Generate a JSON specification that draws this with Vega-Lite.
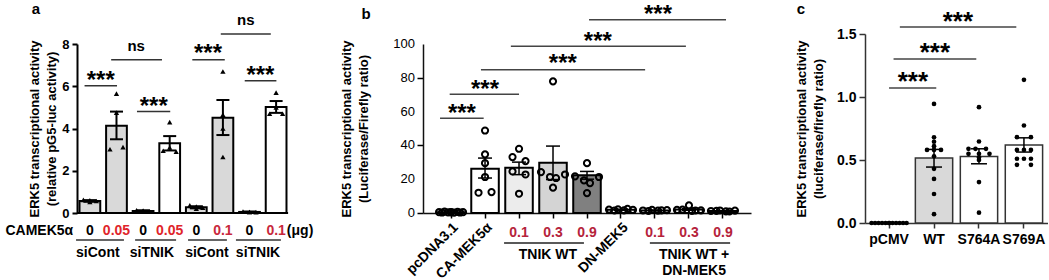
{
  "$schema": "https://vega.github.io/schema/vega-lite/v6.json",
  "padding": {"left": 5, "top": 1, "right": 0, "bottom": 0},
  "bounds": "flush",
  "center": true,
  "spacing": 114,
  "resolve": {"scale": {"fill": "independent", "color": "independent"}},
  "config": {
    "view": {"stroke": null},
    "font": "Liberation Sans",
    "axis": {"grid": false, "labelColor": "black", "titleColor": "black", "domainColor": "black", "tickColor": "black", "labelFont": "Liberation Sans", "titleFont": "Liberation Sans", "labelOverlap": false},
    "text": {"font": "Liberation Sans", "fontWeight": "bold"}
  },
  "datasets": {
    "a_bars": [
      {"cat": "siCont 0", "grp": "siCont", "dose": "0", "mean": 0.57, "lo": 0.53, "hi": 0.61},
      {"cat": "siCont 0.05", "grp": "siCont", "dose": "0.05", "mean": 4.13, "lo": 3.49, "hi": 4.8},
      {"cat": "siTNIK 0", "grp": "siTNIK", "dose": "0", "mean": 0.1, "lo": 0.07, "hi": 0.13},
      {"cat": "siTNIK 0.05", "grp": "siTNIK", "dose": "0.05", "mean": 3.3, "lo": 2.96, "hi": 3.64},
      {"cat": "siCont 0 (2)", "grp": "siCont", "dose": "0", "mean": 0.27, "lo": 0.22, "hi": 0.32},
      {"cat": "siCont 0.1", "grp": "siCont", "dose": "0.1", "mean": 4.51, "lo": 3.69, "hi": 5.35},
      {"cat": "siTNIK 0 (2)", "grp": "siTNIK", "dose": "0", "mean": 0.05, "lo": 0.03, "hi": 0.07},
      {"cat": "siTNIK 0.1", "grp": "siTNIK", "dose": "0.1", "mean": 5.02, "lo": 4.74, "hi": 5.3}
    ],
    "a_pts": [
      {"cat": "siCont 0", "lane": -1, "v": 0.62}, {"cat": "siCont 0", "lane": 0, "v": 0.6}, {"cat": "siCont 0", "lane": 1, "v": 0.57}, {"cat": "siCont 0", "lane": 0, "v": 0.52},
      {"cat": "siCont 0.05", "lane": 0, "v": 5.65}, {"cat": "siCont 0.05", "lane": 0, "v": 4.75}, {"cat": "siCont 0.05", "lane": -1, "v": 3.02}, {"cat": "siCont 0.05", "lane": 1, "v": 3.12},
      {"cat": "siTNIK 0", "lane": -1, "v": 0.13}, {"cat": "siTNIK 0", "lane": 0, "v": 0.1}, {"cat": "siTNIK 0", "lane": 1, "v": 0.08}, {"cat": "siTNIK 0", "lane": 0, "v": 0.1},
      {"cat": "siTNIK 0.05", "lane": 0, "v": 4.3}, {"cat": "siTNIK 0.05", "lane": 0, "v": 3.1}, {"cat": "siTNIK 0.05", "lane": -1, "v": 2.95}, {"cat": "siTNIK 0.05", "lane": 1, "v": 2.9},
      {"cat": "siCont 0 (2)", "lane": -1, "v": 0.36}, {"cat": "siCont 0 (2)", "lane": 0, "v": 0.3}, {"cat": "siCont 0 (2)", "lane": 1, "v": 0.25}, {"cat": "siCont 0 (2)", "lane": 0, "v": 0.2},
      {"cat": "siCont 0.1", "lane": 0, "v": 6.7}, {"cat": "siCont 0.1", "lane": 0, "v": 4.65}, {"cat": "siCont 0.1", "lane": 0, "v": 4.0}, {"cat": "siCont 0.1", "lane": 0, "v": 2.65},
      {"cat": "siTNIK 0 (2)", "lane": -1, "v": 0.07}, {"cat": "siTNIK 0 (2)", "lane": 0, "v": 0.05}, {"cat": "siTNIK 0 (2)", "lane": 1, "v": 0.04}, {"cat": "siTNIK 0 (2)", "lane": 0, "v": 0.05},
      {"cat": "siTNIK 0.1", "lane": 0, "v": 5.7}, {"cat": "siTNIK 0.1", "lane": 0, "v": 5.0}, {"cat": "siTNIK 0.1", "lane": -1, "v": 4.7}, {"cat": "siTNIK 0.1", "lane": 1, "v": 4.7}
    ],
    "a_brk": [
      {"x1": 0.80, "x2": 2.02, "y": 6.02, "label": "***", "xm": 1.41, "ty": 6.57},
      {"x1": 1.80, "x2": 3.71, "y": 7.25, "label": "ns", "xm": 2.74, "ty": 7.92},
      {"x1": 2.77, "x2": 4.02, "y": 4.80, "label": "***", "xm": 3.40, "ty": 5.34},
      {"x1": 4.85, "x2": 6.07, "y": 7.25, "label": "***", "xm": 5.44, "ty": 7.84},
      {"x1": 5.92, "x2": 7.80, "y": 8.47, "label": "ns", "xm": 6.86, "ty": 9.15},
      {"x1": 6.82, "x2": 8.01, "y": 6.26, "label": "***", "xm": 7.41, "ty": 6.81}
    ],
    "a_grp": [
      {"x1": 0.48, "x2": 2.28, "xm": 1.30, "label": "siCont"},
      {"x1": 2.70, "x2": 4.24, "xm": 3.33, "label": "siTNIK"},
      {"x1": 4.69, "x2": 6.15, "xm": 5.40, "label": "siCont"},
      {"x1": 6.49, "x2": 8.18, "xm": 7.32, "label": "siTNIK"}
    ],
    "a_lab": [
      {"xi": -0.90, "label": "CAMEK5α"},
      {"xi": 8.90, "label": "(μg)"}
    ],
    "b_bars": [
      {"cat": "pcDNA3.1", "dose": "", "mean": 0.47, "lo": 0.4, "hi": 0.55},
      {"cat": "CA-MEK5α", "dose": "", "mean": 26.2, "lo": 20.7, "hi": 32.5},
      {"cat": "TNIK WT 0.1", "dose": "0.1", "mean": 26.8, "lo": 22.7, "hi": 30.1},
      {"cat": "TNIK WT 0.3", "dose": "0.3", "mean": 29.7, "lo": 19.8, "hi": 39.6},
      {"cat": "TNIK WT 0.9", "dose": "0.9", "mean": 22.3, "lo": 20.0, "hi": 24.6},
      {"cat": "DN-MEK5", "dose": "", "mean": 1.9, "lo": 1.6, "hi": 2.2},
      {"cat": "TNIK WT + DN-MEK5 0.1", "dose": "0.1", "mean": 1.5, "lo": 1.3, "hi": 1.7},
      {"cat": "TNIK WT + DN-MEK5 0.3", "dose": "0.3", "mean": 2.1, "lo": 1.6, "hi": 2.6},
      {"cat": "TNIK WT + DN-MEK5 0.9", "dose": "0.9", "mean": 1.2, "lo": 1.1, "hi": 1.3}
    ],
    "b_ticks": [{"t": 0}, {"t": 20}, {"t": 40}, {"t": 60}, {"t": 80}, {"t": 100}],
    "b_pts": [
      {"cat": "pcDNA3.1", "lane": -4, "v": 0.5}, {"cat": "pcDNA3.1", "lane": -3, "v": 0.3}, {"cat": "pcDNA3.1", "lane": -2, "v": 0.8}, {"cat": "pcDNA3.1", "lane": -1, "v": 0.4}, {"cat": "pcDNA3.1", "lane": 0, "v": 0.6},
      {"cat": "pcDNA3.1", "lane": 1, "v": 0.2}, {"cat": "pcDNA3.1", "lane": 2, "v": 0.7}, {"cat": "pcDNA3.1", "lane": 3, "v": 0.3}, {"cat": "pcDNA3.1", "lane": 4, "v": 0.5}, {"cat": "pcDNA3.1", "lane": 0, "v": 0.4},
      {"cat": "CA-MEK5α", "lane": 0, "v": 48.8}, {"cat": "CA-MEK5α", "lane": 0, "v": 34.7}, {"cat": "CA-MEK5α", "lane": 0, "v": 29.5}, {"cat": "CA-MEK5α", "lane": 0, "v": 21.3}, {"cat": "CA-MEK5α", "lane": -2, "v": 12.0}, {"cat": "CA-MEK5α", "lane": 2, "v": 12.4},
      {"cat": "TNIK WT 0.1", "lane": 0, "v": 38.0}, {"cat": "TNIK WT 0.1", "lane": -2, "v": 33.1}, {"cat": "TNIK WT 0.1", "lane": 2, "v": 30.7}, {"cat": "TNIK WT 0.1", "lane": -2, "v": 24.6}, {"cat": "TNIK WT 0.1", "lane": 2, "v": 22.8}, {"cat": "TNIK WT 0.1", "lane": 0, "v": 11.4},
      {"cat": "TNIK WT 0.3", "lane": 0, "v": 77.9}, {"cat": "TNIK WT 0.3", "lane": -4, "v": 24.2}, {"cat": "TNIK WT 0.3", "lane": -1, "v": 21.3}, {"cat": "TNIK WT 0.3", "lane": 1, "v": 20.7}, {"cat": "TNIK WT 0.3", "lane": 4, "v": 22.8}, {"cat": "TNIK WT 0.3", "lane": 0, "v": 15.0},
      {"cat": "TNIK WT 0.9", "lane": 0, "v": 29.5}, {"cat": "TNIK WT 0.9", "lane": -4, "v": 21.7}, {"cat": "TNIK WT 0.9", "lane": 4, "v": 21.3}, {"cat": "TNIK WT 0.9", "lane": -1, "v": 19.3}, {"cat": "TNIK WT 0.9", "lane": 1, "v": 17.7}, {"cat": "TNIK WT 0.9", "lane": 0, "v": 11.8},
      {"cat": "DN-MEK5", "lane": -4, "v": 2.0}, {"cat": "DN-MEK5", "lane": -2, "v": 1.5}, {"cat": "DN-MEK5", "lane": -1, "v": 2.2}, {"cat": "DN-MEK5", "lane": 1, "v": 1.6}, {"cat": "DN-MEK5", "lane": 2, "v": 2.5}, {"cat": "DN-MEK5", "lane": 4, "v": 1.8},
      {"cat": "TNIK WT + DN-MEK5 0.1", "lane": -4, "v": 1.5}, {"cat": "TNIK WT + DN-MEK5 0.1", "lane": -2, "v": 1.2}, {"cat": "TNIK WT + DN-MEK5 0.1", "lane": -1, "v": 1.8}, {"cat": "TNIK WT + DN-MEK5 0.1", "lane": 1, "v": 1.4}, {"cat": "TNIK WT + DN-MEK5 0.1", "lane": 2, "v": 1.6}, {"cat": "TNIK WT + DN-MEK5 0.1", "lane": 4, "v": 1.7},
      {"cat": "TNIK WT + DN-MEK5 0.3", "lane": 0, "v": 4.5}, {"cat": "TNIK WT + DN-MEK5 0.3", "lane": -4, "v": 1.8}, {"cat": "TNIK WT + DN-MEK5 0.3", "lane": -2, "v": 2.0}, {"cat": "TNIK WT + DN-MEK5 0.3", "lane": 1, "v": 1.2}, {"cat": "TNIK WT + DN-MEK5 0.3", "lane": 2, "v": 1.5}, {"cat": "TNIK WT + DN-MEK5 0.3", "lane": 4, "v": 1.6},
      {"cat": "TNIK WT + DN-MEK5 0.9", "lane": -4, "v": 1.2}, {"cat": "TNIK WT + DN-MEK5 0.9", "lane": -2, "v": 1.3}, {"cat": "TNIK WT + DN-MEK5 0.9", "lane": -1, "v": 1.5}, {"cat": "TNIK WT + DN-MEK5 0.9", "lane": 1, "v": 1.0}, {"cat": "TNIK WT + DN-MEK5 0.9", "lane": 2, "v": 0.9}, {"cat": "TNIK WT + DN-MEK5 0.9", "lane": 4, "v": 1.4}
    ],
    "b_brk": [
      {"x1": 0.676, "x2": 1.96, "y": 56.1, "label": "***", "xm": 1.32, "ty": 63.0},
      {"x1": 0.96, "x2": 3.0, "y": 70.2, "label": "***", "xm": 2.0, "ty": 76.7},
      {"x1": 1.88, "x2": 6.71, "y": 84.8, "label": "***", "xm": 4.29, "ty": 92.1},
      {"x1": 2.76, "x2": 7.91, "y": 98.6, "label": "***", "xm": 5.32, "ty": 105.3},
      {"x1": 5.06, "x2": 9.09, "y": 114.3, "label": "***", "xm": 7.09, "ty": 121.2}
    ],
    "b_grp": [
      {"x1": 2.56, "x2": 4.91, "xm": 3.85, "label": "TNIK WT"},
      {"x1": 6.85, "x2": 9.21, "xm": 8.15, "label": "TNIK WT +\nDN-MEK5"}
    ],
    "c_bars": [
      {"cat": "pCMV", "mean": 0, "lo": 0, "hi": 0},
      {"cat": "WT", "mean": 0.516, "lo": 0.444, "hi": 0.584},
      {"cat": "S764A", "mean": 0.528, "lo": 0.47, "hi": 0.589},
      {"cat": "S769A", "mean": 0.62, "lo": 0.563, "hi": 0.676}
    ],
    "c_pts": [
      {"cat": "pCMV", "lane": -5, "v": 0}, {"cat": "pCMV", "lane": -4, "v": 0}, {"cat": "pCMV", "lane": -3, "v": 0}, {"cat": "pCMV", "lane": -2, "v": 0}, {"cat": "pCMV", "lane": -1, "v": 0}, {"cat": "pCMV", "lane": 0, "v": 0},
      {"cat": "pCMV", "lane": 1, "v": 0}, {"cat": "pCMV", "lane": 2, "v": 0}, {"cat": "pCMV", "lane": 3, "v": 0}, {"cat": "pCMV", "lane": 4, "v": 0}, {"cat": "pCMV", "lane": 5, "v": 0}, {"cat": "pCMV", "lane": 0, "v": 0},
      {"cat": "WT", "lane": 0, "v": 0.945}, {"cat": "WT", "lane": 0, "v": 0.68}, {"cat": "WT", "lane": 0, "v": 0.645}, {"cat": "WT", "lane": 0, "v": 0.61}, {"cat": "WT", "lane": -2, "v": 0.58}, {"cat": "WT", "lane": 0, "v": 0.58},
      {"cat": "WT", "lane": 2, "v": 0.58}, {"cat": "WT", "lane": 0, "v": 0.53}, {"cat": "WT", "lane": 0, "v": 0.43}, {"cat": "WT", "lane": 0, "v": 0.35}, {"cat": "WT", "lane": 0, "v": 0.23}, {"cat": "WT", "lane": 0, "v": 0.07},
      {"cat": "S764A", "lane": 0, "v": 0.919}, {"cat": "S764A", "lane": 0, "v": 0.647}, {"cat": "S764A", "lane": -3, "v": 0.589}, {"cat": "S764A", "lane": -1, "v": 0.589}, {"cat": "S764A", "lane": 2, "v": 0.589}, {"cat": "S764A", "lane": -3, "v": 0.549},
      {"cat": "S764A", "lane": 0, "v": 0.549}, {"cat": "S764A", "lane": 3, "v": 0.549}, {"cat": "S764A", "lane": 0, "v": 0.52}, {"cat": "S764A", "lane": 0, "v": 0.5}, {"cat": "S764A", "lane": 0, "v": 0.325}, {"cat": "S764A", "lane": 0, "v": 0.082},
      {"cat": "S769A", "lane": 0, "v": 1.136}, {"cat": "S769A", "lane": 0, "v": 0.774}, {"cat": "S769A", "lane": -2, "v": 0.681}, {"cat": "S769A", "lane": 2, "v": 0.681}, {"cat": "S769A", "lane": -2, "v": 0.58}, {"cat": "S769A", "lane": 0, "v": 0.58},
      {"cat": "S769A", "lane": 2, "v": 0.58}, {"cat": "S769A", "lane": -2, "v": 0.51}, {"cat": "S769A", "lane": 0, "v": 0.51}, {"cat": "S769A", "lane": 2, "v": 0.51}, {"cat": "S769A", "lane": -2, "v": 0.462}, {"cat": "S769A", "lane": 2, "v": 0.462}
    ],
    "c_brk": [
      {"x1": 1.0, "x2": 2.05, "y": 1.072, "label": "***", "xm": 1.53, "ty": 1.175},
      {"x1": 1.10, "x2": 2.94, "y": 1.302, "label": "***", "xm": 2.02, "ty": 1.408},
      {"x1": 1.24, "x2": 3.83, "y": 1.555, "label": "***", "xm": 2.53, "ty": 1.65}
    ]
  },
  "hconcat": [
    {
      "width": 232,
      "height": 169,
      "resolve": {"scale": {"x": "independent"}, "axis": {"x": "independent"}},
      "layer": [
        {
          "encoding": {
            "x": {"field": "cat", "type": "nominal", "sort": null, "axis": null,
                  "scale": {"domain": ["siCont 0", "siCont 0.05", "siTNIK 0", "siTNIK 0.05", "siCont 0 (2)", "siCont 0.1", "siTNIK 0 (2)", "siTNIK 0.1"], "paddingInner": 0.22, "paddingOuter": 0.47, "align": 0.1}}
          },
          "layer": [
            {
              "data": {"name": "a_bars"},
              "mark": {"type": "bar", "stroke": "black", "strokeWidth": 2},
              "encoding": {
                "y": {"field": "mean", "type": "quantitative", "scale": {"domain": [0, 8], "nice": false},
                      "axis": {"values": [0, 2, 4, 6, 8], "labelOverlap": false, "title": ["ERK5 transcriptional activity", "(relative pG5-luc activity)"], "titleFontSize": 13, "titleFontWeight": "bold", "titlePadding": 3, "titleLineHeight": 17, "labelFontSize": 13, "labelFontWeight": "bold", "labelPadding": 3, "tickSize": 5, "tickWidth": 2, "domainWidth": 2}},
                "fill": {"field": "grp", "type": "nominal", "scale": {"domain": ["siCont", "siTNIK"], "range": ["#d9d9d9", "#ffffff"]}, "legend": null}
              }
            },
            {
              "data": {"name": "a_bars"},
              "mark": {"type": "rule", "strokeWidth": 2, "color": "black"},
              "encoding": {"y": {"field": "lo", "type": "quantitative", "scale": {"domain": [0, 8], "nice": false}}, "y2": {"field": "hi"}}
            },
            {
              "data": {"name": "a_bars"},
              "mark": {"type": "rule", "strokeWidth": 2, "color": "black", "xOffset": -6.5, "x2Offset": 6.5},
              "encoding": {"x2": {"field": "cat"}, "y": {"field": "hi", "type": "quantitative", "scale": {"domain": [0, 8], "nice": false}}}
            },
            {
              "data": {"name": "a_bars"},
              "mark": {"type": "rule", "strokeWidth": 2, "color": "black", "xOffset": -6.5, "x2Offset": 6.5},
              "encoding": {"x2": {"field": "cat"}, "y": {"field": "lo", "type": "quantitative", "scale": {"domain": [0, 8], "nice": false}}}
            },
            {
              "data": {"name": "a_pts"}, "transform": [{"filter": "datum.lane == -1"}],
              "mark": {"type": "point", "shape": "triangle-up", "filled": true, "color": "black", "size": 28, "opacity": 1, "xOffset": -6.5},
              "encoding": {"y": {"field": "v", "type": "quantitative", "scale": {"domain": [0, 8], "nice": false}}}
            },
            {
              "data": {"name": "a_pts"}, "transform": [{"filter": "datum.lane == 0"}],
              "mark": {"type": "point", "shape": "triangle-up", "filled": true, "color": "black", "size": 28, "opacity": 1},
              "encoding": {"y": {"field": "v", "type": "quantitative", "scale": {"domain": [0, 8], "nice": false}}}
            },
            {
              "data": {"name": "a_pts"}, "transform": [{"filter": "datum.lane == 1"}],
              "mark": {"type": "point", "shape": "triangle-up", "filled": true, "color": "black", "size": 28, "opacity": 1, "xOffset": 6.5},
              "encoding": {"y": {"field": "v", "type": "quantitative", "scale": {"domain": [0, 8], "nice": false}}}
            },
            {
              "data": {"name": "a_bars"},
              "mark": {"type": "text", "dy": 18, "fontSize": 14, "fontWeight": "bold", "baseline": "middle"},
              "encoding": {
                "y": {"datum": 0, "type": "quantitative", "scale": {"domain": [0, 8], "nice": false}},
                "text": {"field": "dose", "type": "nominal"},
                "color": {"field": "dose", "type": "nominal", "scale": {"domain": ["0", "0.05", "0.1"], "range": ["#000000", "#e0252b", "#c8283c"]}, "legend": null}
              }
            }
          ]
        },
        {
          "layer": [
            {
              "data": {"values": [{}]},
              "mark": {"type": "rule", "strokeWidth": 2, "color": "black"},
              "encoding": {
                "x": {"datum": 0.5159, "type": "quantitative", "scale": {"domain": [0.5159, 9.2357], "nice": false, "zero": false}, "axis": null},
                "x2": {"datum": 8.45},
                "y": {"datum": 0, "type": "quantitative", "scale": {"domain": [0, 8], "nice": false}}
              }
            },
            {
              "data": {"name": "a_brk"},
              "mark": {"type": "rule", "strokeWidth": 1.5, "color": "#333333"},
              "encoding": {
                "x": {"field": "x1", "type": "quantitative", "scale": {"domain": [0.5159, 9.2357], "nice": false, "zero": false}, "axis": null},
                "x2": {"field": "x2"},
                "y": {"field": "y", "type": "quantitative", "scale": {"domain": [0, 8], "nice": false}}
              }
            },
            {
              "data": {"name": "a_brk"},
              "transform": [{"filter": "datum.label == '***'"}],
              "mark": {"type": "text", "fontSize": 24, "fontWeight": "bold", "baseline": "middle", "dy": 7},
              "encoding": {
                "x": {"field": "xm", "type": "quantitative", "scale": {"domain": [0.5159, 9.2357], "nice": false, "zero": false}, "axis": null},
                "y": {"field": "ty", "type": "quantitative", "scale": {"domain": [0, 8], "nice": false}},
                "text": {"field": "label"}
              }
            },
            {
              "data": {"name": "a_brk"},
              "transform": [{"filter": "datum.label == 'ns'"}],
              "mark": {"type": "text", "fontSize": 15, "fontWeight": "bold", "baseline": "middle"},
              "encoding": {
                "x": {"field": "xm", "type": "quantitative", "scale": {"domain": [0.5159, 9.2357], "nice": false, "zero": false}, "axis": null},
                "y": {"field": "ty", "type": "quantitative", "scale": {"domain": [0, 8], "nice": false}},
                "text": {"field": "label"}
              }
            },
            {
              "data": {"name": "a_grp"},
              "mark": {"type": "rule", "strokeWidth": 1.5, "color": "#333333", "yOffset": 27},
              "encoding": {
                "x": {"field": "x1", "type": "quantitative", "scale": {"domain": [0.5159, 9.2357], "nice": false, "zero": false}, "axis": null},
                "x2": {"field": "x2"},
                "y": {"datum": 0, "type": "quantitative", "scale": {"domain": [0, 8], "nice": false}}
              }
            },
            {
              "data": {"name": "a_grp"},
              "mark": {"type": "text", "fontSize": 14, "fontWeight": "bold", "baseline": "middle", "dy": 40},
              "encoding": {
                "x": {"field": "xm", "type": "quantitative", "scale": {"domain": [0.5159, 9.2357], "nice": false, "zero": false}, "axis": null},
                "y": {"datum": 0, "type": "quantitative", "scale": {"domain": [0, 8], "nice": false}},
                "text": {"field": "label"}
              }
            },
            {
              "data": {"name": "a_lab"},
              "mark": {"type": "text", "fontSize": 14, "fontWeight": "bold", "baseline": "middle", "dy": 18},
              "encoding": {
                "x": {"field": "xi", "type": "quantitative", "scale": {"domain": [0.5159, 9.2357], "nice": false, "zero": false}, "axis": null},
                "y": {"datum": 0, "type": "quantitative", "scale": {"domain": [0, 8], "nice": false}},
                "text": {"field": "label"}
              }
            },
            {
              "data": {"values": [{}]},
              "mark": {"type": "text", "text": "a", "fontSize": 15, "fontWeight": "bold", "baseline": "middle"},
              "encoding": {
                "x": {"datum": -1.03, "type": "quantitative", "scale": {"domain": [0.5159, 9.2357], "nice": false, "zero": false}, "axis": null},
                "y": {"datum": 9.68, "type": "quantitative", "scale": {"domain": [0, 8], "nice": false}}
              }
            }
          ]
        }
      ]
    },
    {
      "width": 328,
      "height": 169,
      "resolve": {"scale": {"x": "independent"}, "axis": {"x": "independent"}},
      "layer": [
        {
          "encoding": {
            "x": {"field": "cat", "type": "nominal", "sort": null,
                  "scale": {"domain": ["pcDNA3.1", "CA-MEK5α", "TNIK WT 0.1", "TNIK WT 0.3", "TNIK WT 0.9", "DN-MEK5", "TNIK WT + DN-MEK5 0.1", "TNIK WT + DN-MEK5 0.3", "TNIK WT + DN-MEK5 0.9"], "paddingInner": 0.19, "paddingOuter": 0.42},
                  "axis": {"title": null, "labelAngle": -45, "labelExpr": "indexof(datum.value, ' ') < 0 ? datum.value : ''", "labelFontSize": 14, "labelFontWeight": "bold", "labelPadding": 2, "tickSize": 5, "tickWidth": 1.5, "domainWidth": 1.5, "domainColor": "#111111"}}
          },
          "layer": [
            {
              "data": {"name": "b_bars"},
              "mark": {"type": "bar", "stroke": "black", "strokeWidth": 2},
              "encoding": {
                "y": {"field": "mean", "type": "quantitative", "scale": {"domain": [0, 100], "nice": false},
                      "axis": {"values": [0, 20, 40, 60, 80, 100], "labels": false, "title": ["ERK5 transcriptional activity", "(Luciferase/Firefly ratio)"], "titleFontSize": 13, "titleFontWeight": "bold", "titlePadding": 46, "titleLineHeight": 17, "tickSize": 6, "tickWidth": 1.5, "domainWidth": 1.5, "domainColor": "#111111"}},
                "fill": {"field": "cat", "type": "nominal", "scale": {"domain": ["pcDNA3.1", "CA-MEK5α", "TNIK WT 0.1", "TNIK WT 0.3", "TNIK WT 0.9", "DN-MEK5", "TNIK WT + DN-MEK5 0.1", "TNIK WT + DN-MEK5 0.3", "TNIK WT + DN-MEK5 0.9"], "range": ["#ffffff", "#ffffff", "#ececec", "#d4d4d4", "#808080", "#ffffff", "#ffffff", "#ffffff", "#ffffff"]}, "legend": null}
              }
            },
            {
              "data": {"name": "b_bars"},
              "mark": {"type": "rule", "strokeWidth": 1.5, "color": "black"},
              "encoding": {"y": {"field": "lo", "type": "quantitative", "scale": {"domain": [0, 100], "nice": false}}, "y2": {"field": "hi"}}
            },
            {
              "data": {"name": "b_bars"},
              "mark": {"type": "rule", "strokeWidth": 1.5, "color": "black", "xOffset": -7, "x2Offset": 7},
              "encoding": {"x2": {"field": "cat"}, "y": {"field": "hi", "type": "quantitative", "scale": {"domain": [0, 100], "nice": false}}}
            },
            {
              "data": {"name": "b_bars"},
              "mark": {"type": "rule", "strokeWidth": 1.5, "color": "black", "xOffset": -7, "x2Offset": 7},
              "encoding": {"x2": {"field": "cat"}, "y": {"field": "lo", "type": "quantitative", "scale": {"domain": [0, 100], "nice": false}}}
            },
            {"data": {"name": "b_pts"}, "transform": [{"filter": "datum.lane == -4"}], "mark": {"type": "point", "shape": "circle", "filled": false, "color": "black", "strokeWidth": 2, "size": 38, "opacity": 1, "xOffset": -12}, "encoding": {"y": {"field": "v", "type": "quantitative", "scale": {"domain": [0, 100], "nice": false}}}},
            {"data": {"name": "b_pts"}, "transform": [{"filter": "datum.lane == -3"}], "mark": {"type": "point", "shape": "circle", "filled": false, "color": "black", "strokeWidth": 2, "size": 38, "opacity": 1, "xOffset": -9}, "encoding": {"y": {"field": "v", "type": "quantitative", "scale": {"domain": [0, 100], "nice": false}}}},
            {"data": {"name": "b_pts"}, "transform": [{"filter": "datum.lane == -2"}], "mark": {"type": "point", "shape": "circle", "filled": false, "color": "black", "strokeWidth": 2, "size": 38, "opacity": 1, "xOffset": -6.5}, "encoding": {"y": {"field": "v", "type": "quantitative", "scale": {"domain": [0, 100], "nice": false}}}},
            {"data": {"name": "b_pts"}, "transform": [{"filter": "datum.lane == -1"}], "mark": {"type": "point", "shape": "circle", "filled": false, "color": "black", "strokeWidth": 2, "size": 38, "opacity": 1, "xOffset": -3}, "encoding": {"y": {"field": "v", "type": "quantitative", "scale": {"domain": [0, 100], "nice": false}}}},
            {"data": {"name": "b_pts"}, "transform": [{"filter": "datum.lane == 0"}], "mark": {"type": "point", "shape": "circle", "filled": false, "color": "black", "strokeWidth": 2, "size": 38, "opacity": 1}, "encoding": {"y": {"field": "v", "type": "quantitative", "scale": {"domain": [0, 100], "nice": false}}}},
            {"data": {"name": "b_pts"}, "transform": [{"filter": "datum.lane == 1"}], "mark": {"type": "point", "shape": "circle", "filled": false, "color": "black", "strokeWidth": 2, "size": 38, "opacity": 1, "xOffset": 3}, "encoding": {"y": {"field": "v", "type": "quantitative", "scale": {"domain": [0, 100], "nice": false}}}},
            {"data": {"name": "b_pts"}, "transform": [{"filter": "datum.lane == 2"}], "mark": {"type": "point", "shape": "circle", "filled": false, "color": "black", "strokeWidth": 2, "size": 38, "opacity": 1, "xOffset": 6.5}, "encoding": {"y": {"field": "v", "type": "quantitative", "scale": {"domain": [0, 100], "nice": false}}}},
            {"data": {"name": "b_pts"}, "transform": [{"filter": "datum.lane == 3"}], "mark": {"type": "point", "shape": "circle", "filled": false, "color": "black", "strokeWidth": 2, "size": 38, "opacity": 1, "xOffset": 9}, "encoding": {"y": {"field": "v", "type": "quantitative", "scale": {"domain": [0, 100], "nice": false}}}},
            {"data": {"name": "b_pts"}, "transform": [{"filter": "datum.lane == 4"}], "mark": {"type": "point", "shape": "circle", "filled": false, "color": "black", "strokeWidth": 2, "size": 38, "opacity": 1, "xOffset": 12}, "encoding": {"y": {"field": "v", "type": "quantitative", "scale": {"domain": [0, 100], "nice": false}}}},
            {
              "data": {"name": "b_bars"},
              "mark": {"type": "text", "dy": 20, "fontSize": 14, "fontWeight": "bold", "baseline": "middle", "color": "#b5233b"},
              "encoding": {
                "y": {"datum": 0, "type": "quantitative", "scale": {"domain": [0, 100], "nice": false}},
                "text": {"field": "dose", "type": "nominal"}
              }
            }
          ]
        },
        {
          "layer": [
            {
              "data": {"name": "b_ticks"},
              "mark": {"type": "text", "fontSize": 13, "fontWeight": "normal", "align": "right", "baseline": "middle", "dx": -8, "color": "black"},
              "encoding": {
                "x": {"datum": 0.175, "type": "quantitative", "scale": {"domain": [0.175, 9.825], "nice": false, "zero": false}, "axis": null},
                "y": {"field": "t", "type": "quantitative", "scale": {"domain": [0, 100], "nice": false}},
                "text": {"field": "t", "type": "quantitative"}
              }
            },
            {
              "data": {"name": "b_brk"},
              "mark": {"type": "rule", "strokeWidth": 1.5, "color": "#444444"},
              "encoding": {
                "x": {"field": "x1", "type": "quantitative", "scale": {"domain": [0.175, 9.825], "nice": false, "zero": false}, "axis": null},
                "x2": {"field": "x2"},
                "y": {"field": "y", "type": "quantitative", "scale": {"domain": [0, 100], "nice": false}}
              }
            },
            {
              "data": {"name": "b_brk"},
              "mark": {"type": "text", "fontSize": 24, "fontWeight": "bold", "baseline": "middle", "dy": 7},
              "encoding": {
                "x": {"field": "xm", "type": "quantitative", "scale": {"domain": [0.175, 9.825], "nice": false, "zero": false}, "axis": null},
                "y": {"field": "ty", "type": "quantitative", "scale": {"domain": [0, 100], "nice": false}},
                "text": {"field": "label"}
              }
            },
            {
              "data": {"name": "b_grp"},
              "mark": {"type": "rule", "strokeWidth": 1.5, "color": "#222222", "yOffset": 30},
              "encoding": {
                "x": {"field": "x1", "type": "quantitative", "scale": {"domain": [0.175, 9.825], "nice": false, "zero": false}, "axis": null},
                "x2": {"field": "x2"},
                "y": {"datum": 0, "type": "quantitative", "scale": {"domain": [0, 100], "nice": false}}
              }
            },
            {
              "data": {"name": "b_grp"},
              "mark": {"type": "text", "fontSize": 14, "fontWeight": "bold", "baseline": "middle", "dy": 42, "lineBreak": "\n", "lineHeight": 16},
              "encoding": {
                "x": {"field": "xm", "type": "quantitative", "scale": {"domain": [0.175, 9.825], "nice": false, "zero": false}, "axis": null},
                "y": {"datum": 0, "type": "quantitative", "scale": {"domain": [0, 100], "nice": false}},
                "text": {"field": "label"}
              }
            },
            {
              "data": {"values": [{}]},
              "mark": {"type": "text", "text": "b", "fontSize": 15, "fontWeight": "bold", "baseline": "middle"},
              "encoding": {
                "x": {"datum": -1.5, "type": "quantitative", "scale": {"domain": [0.175, 9.825], "nice": false, "zero": false}, "axis": null},
                "y": {"datum": 118, "type": "quantitative", "scale": {"domain": [0, 100], "nice": false}}
              }
            }
          ]
        }
      ]
    },
    {
      "width": 183,
      "height": 189,
      "resolve": {"scale": {"x": "independent"}, "axis": {"x": "independent"}},
      "layer": [
        {
          "encoding": {
            "x": {"field": "cat", "type": "nominal", "sort": null,
                  "scale": {"domain": ["pCMV", "WT", "S764A", "S769A"], "paddingInner": 0.17, "paddingOuter": 0.12},
                  "axis": {"title": null, "labelAngle": 0, "labelFontSize": 14, "labelFontWeight": "bold", "labelPadding": 4, "tickSize": 5, "tickWidth": 1.5, "domainWidth": 1.5, "domainColor": "#333333", "tickColor": "#333333"}}
          },
          "layer": [
            {
              "data": {"name": "c_bars"},
              "mark": {"type": "bar", "stroke": "#333333", "strokeWidth": 1.5},
              "encoding": {
                "y": {"field": "mean", "type": "quantitative", "scale": {"domain": [0, 1.5], "nice": false},
                      "axis": {"values": [0, 0.5, 1, 1.5], "labelOverlap": false, "format": ".1f", "title": ["ERK5 transcriptional activity", "(luciferase/firefly ratio)"], "titleFontSize": 13, "titleFontWeight": "bold", "titlePadding": 11, "titleLineHeight": 17, "labelFontSize": 14, "labelFontWeight": "bold", "labelPadding": 3, "tickSize": 6, "tickWidth": 1.5, "domainWidth": 1.5, "domainColor": "#333333", "tickColor": "#333333"}},
                "fill": {"field": "cat", "type": "nominal", "scale": {"domain": ["pCMV", "WT", "S764A", "S769A"], "range": ["#ffffff", "#d9d9d9", "#ffffff", "#ffffff"]}, "legend": null}
              }
            },
            {
              "data": {"name": "c_bars"},
              "mark": {"type": "rule", "strokeWidth": 1.5, "color": "black"},
              "encoding": {"y": {"field": "lo", "type": "quantitative", "scale": {"domain": [0, 1.5], "nice": false}}, "y2": {"field": "hi"}}
            },
            {
              "data": {"name": "c_bars"},
              "mark": {"type": "rule", "strokeWidth": 1.5, "color": "black", "xOffset": -8, "x2Offset": 8},
              "encoding": {"x2": {"field": "cat"}, "y": {"field": "hi", "type": "quantitative", "scale": {"domain": [0, 1.5], "nice": false}}}
            },
            {
              "data": {"name": "c_bars"},
              "mark": {"type": "rule", "strokeWidth": 1.5, "color": "black", "xOffset": -8, "x2Offset": 8},
              "encoding": {"x2": {"field": "cat"}, "y": {"field": "lo", "type": "quantitative", "scale": {"domain": [0, 1.5], "nice": false}}}
            },
            {"data": {"name": "c_pts"}, "transform": [{"filter": "datum.lane == -5"}], "mark": {"type": "point", "shape": "circle", "filled": true, "color": "black", "size": 22, "opacity": 1, "xOffset": -17.5}, "encoding": {"y": {"field": "v", "type": "quantitative", "scale": {"domain": [0, 1.5], "nice": false}}}},
            {"data": {"name": "c_pts"}, "transform": [{"filter": "datum.lane == -4"}], "mark": {"type": "point", "shape": "circle", "filled": true, "color": "black", "size": 22, "opacity": 1, "xOffset": -14}, "encoding": {"y": {"field": "v", "type": "quantitative", "scale": {"domain": [0, 1.5], "nice": false}}}},
            {"data": {"name": "c_pts"}, "transform": [{"filter": "datum.lane == -3"}], "mark": {"type": "point", "shape": "circle", "filled": true, "color": "black", "size": 22, "opacity": 1, "xOffset": -10.5}, "encoding": {"y": {"field": "v", "type": "quantitative", "scale": {"domain": [0, 1.5], "nice": false}}}},
            {"data": {"name": "c_pts"}, "transform": [{"filter": "datum.lane == -2"}], "mark": {"type": "point", "shape": "circle", "filled": true, "color": "black", "size": 22, "opacity": 1, "xOffset": -7}, "encoding": {"y": {"field": "v", "type": "quantitative", "scale": {"domain": [0, 1.5], "nice": false}}}},
            {"data": {"name": "c_pts"}, "transform": [{"filter": "datum.lane == -1"}], "mark": {"type": "point", "shape": "circle", "filled": true, "color": "black", "size": 22, "opacity": 1, "xOffset": -3.5}, "encoding": {"y": {"field": "v", "type": "quantitative", "scale": {"domain": [0, 1.5], "nice": false}}}},
            {"data": {"name": "c_pts"}, "transform": [{"filter": "datum.lane == 0"}], "mark": {"type": "point", "shape": "circle", "filled": true, "color": "black", "size": 22, "opacity": 1}, "encoding": {"y": {"field": "v", "type": "quantitative", "scale": {"domain": [0, 1.5], "nice": false}}}},
            {"data": {"name": "c_pts"}, "transform": [{"filter": "datum.lane == 1"}], "mark": {"type": "point", "shape": "circle", "filled": true, "color": "black", "size": 22, "opacity": 1, "xOffset": 3.5}, "encoding": {"y": {"field": "v", "type": "quantitative", "scale": {"domain": [0, 1.5], "nice": false}}}},
            {"data": {"name": "c_pts"}, "transform": [{"filter": "datum.lane == 2"}], "mark": {"type": "point", "shape": "circle", "filled": true, "color": "black", "size": 22, "opacity": 1, "xOffset": 7}, "encoding": {"y": {"field": "v", "type": "quantitative", "scale": {"domain": [0, 1.5], "nice": false}}}},
            {"data": {"name": "c_pts"}, "transform": [{"filter": "datum.lane == 3"}], "mark": {"type": "point", "shape": "circle", "filled": true, "color": "black", "size": 22, "opacity": 1, "xOffset": 10.5}, "encoding": {"y": {"field": "v", "type": "quantitative", "scale": {"domain": [0, 1.5], "nice": false}}}},
            {"data": {"name": "c_pts"}, "transform": [{"filter": "datum.lane == 4"}], "mark": {"type": "point", "shape": "circle", "filled": true, "color": "black", "size": 22, "opacity": 1, "xOffset": 14}, "encoding": {"y": {"field": "v", "type": "quantitative", "scale": {"domain": [0, 1.5], "nice": false}}}},
            {"data": {"name": "c_pts"}, "transform": [{"filter": "datum.lane == 5"}], "mark": {"type": "point", "shape": "circle", "filled": true, "color": "black", "size": 22, "opacity": 1, "xOffset": 17.5}, "encoding": {"y": {"field": "v", "type": "quantitative", "scale": {"domain": [0, 1.5], "nice": false}}}}
          ]
        },
        {
          "layer": [
            {
              "data": {"name": "c_brk"},
              "mark": {"type": "rule", "strokeWidth": 1.5, "color": "#444444"},
              "encoding": {
                "x": {"field": "x1", "type": "quantitative", "scale": {"domain": [0.4649, 4.535], "nice": false, "zero": false}, "axis": null},
                "x2": {"field": "x2"},
                "y": {"field": "y", "type": "quantitative", "scale": {"domain": [0, 1.5], "nice": false}}
              }
            },
            {
              "data": {"name": "c_brk"},
              "mark": {"type": "text", "fontSize": 26, "fontWeight": "bold", "baseline": "middle", "dy": 7},
              "encoding": {
                "x": {"field": "xm", "type": "quantitative", "scale": {"domain": [0.4649, 4.535], "nice": false, "zero": false}, "axis": null},
                "y": {"field": "ty", "type": "quantitative", "scale": {"domain": [0, 1.5], "nice": false}},
                "text": {"field": "label"}
              }
            },
            {
              "data": {"values": [{}]},
              "mark": {"type": "text", "text": "c", "fontSize": 15, "fontWeight": "bold", "baseline": "middle"},
              "encoding": {
                "x": {"datum": -0.96, "type": "quantitative", "scale": {"domain": [0.4649, 4.535], "nice": false, "zero": false}, "axis": null},
                "y": {"datum": 1.698, "type": "quantitative", "scale": {"domain": [0, 1.5], "nice": false}}
              }
            }
          ]
        }
      ]
    }
  ]
}
